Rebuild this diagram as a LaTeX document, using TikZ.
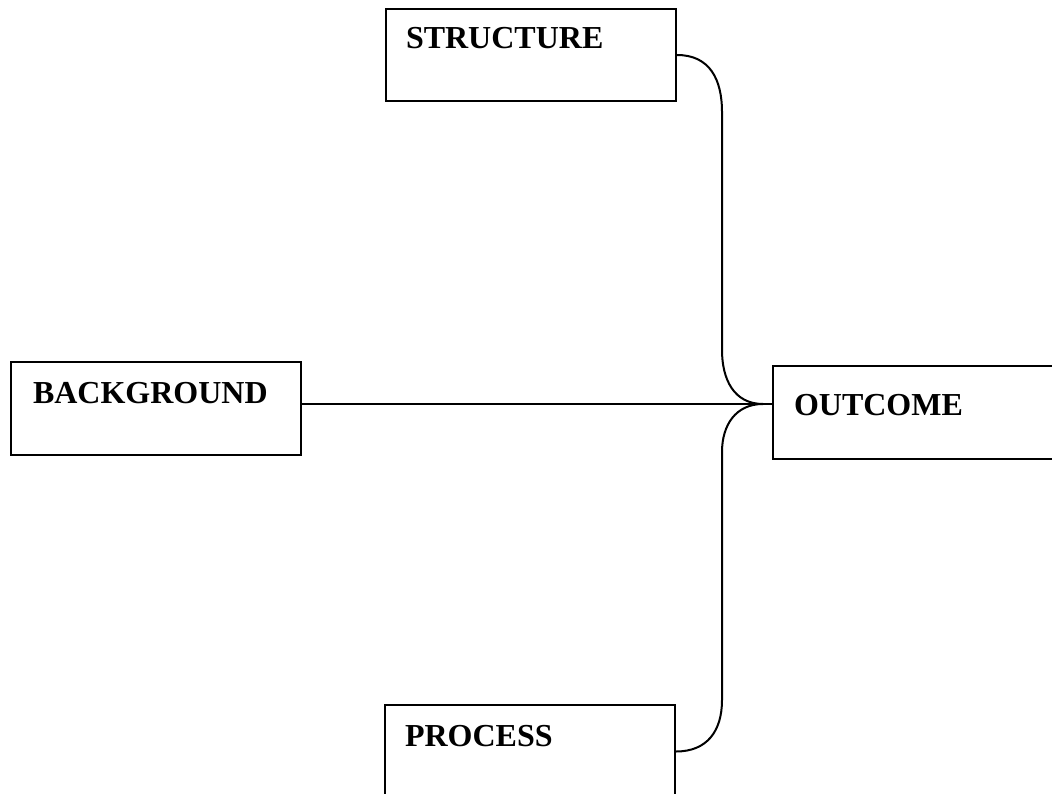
\documentclass[tikz,border=0pt]{standalone}
\usepackage{fontspec}
\setmainfont{Liberation Serif}
\begin{document}
\begin{tikzpicture}[x=1pt,y=1pt,
  box/.style={draw, line width=2pt, anchor=north west, inner xsep=20pt, inner ysep=0pt,
    text width=250pt, minimum width=290pt, align=left,
    font=\fontsize{32}{38}\selectfont\bfseries, text height=40pt, text depth=52pt},
  conn/.style={line width=2pt}]
\useasboundingbox (0,0) rectangle (1052,-794);
\clip (0,0) rectangle (1052,-794);
\node[box] (s) at (385,-8) {STRUCTURE};
\node[box, inner xsep=22pt, text width=246pt, text height=41pt] (b) at (10,-361) {BACKGROUND};
\node[box, inner xsep=21pt, text width=248pt, text height=49pt, text depth=44pt] (o) at (772,-365) {OUTCOME};
\node[box, text height=41pt] (p) at (384,-704) {PROCESS};
\coordinate (m) at (763,-404);
\coordinate (t1) at (722,-112);
\coordinate (t2) at (722,-350);
\coordinate (l1) at (722,-452);
\coordinate (l2) at (722,-700);
\draw[conn] (s.east) to[out=0,in=90,looseness=1.15] (t1) -- (t2) to[out=-90,in=180,looseness=1.1] (m);
\draw[conn] (m) to[out=180,in=90,looseness=1.1] (l1) -- (l2) to[out=-90,in=0,looseness=1.15] (p.east);
\draw[conn] (b.east |- m) -- (o.west |- m);
\end{tikzpicture}
\end{document}
